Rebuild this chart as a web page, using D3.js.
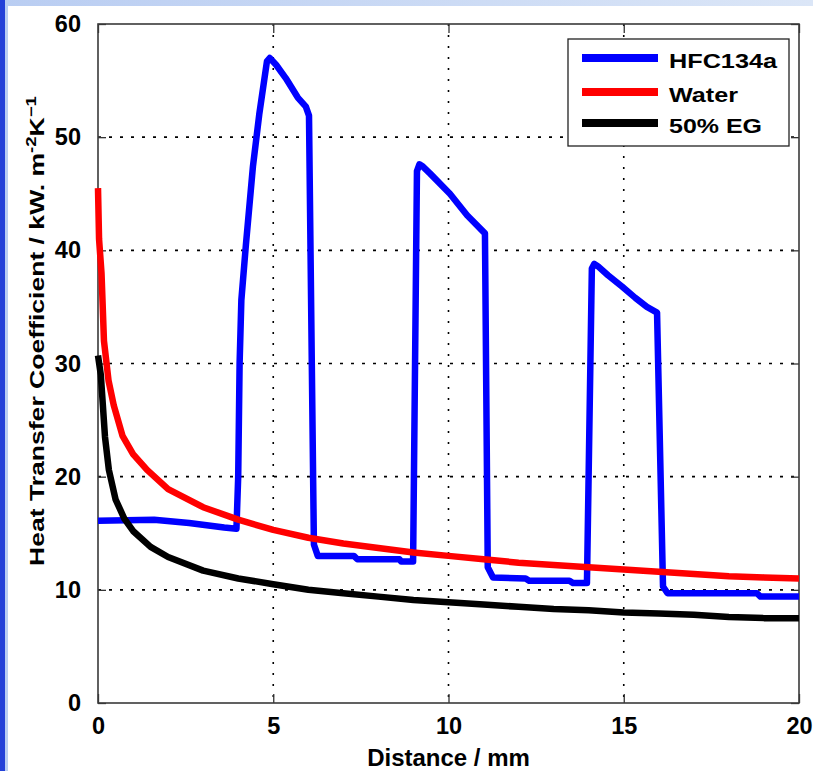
<!DOCTYPE html>
<html>
<head>
<meta charset="utf-8">
<script src="https://cdn.jsdelivr.net/npm/d3@7/dist/d3.min.js"></script>
<style>
  html, body { margin: 0; padding: 0; background: #ffffff; }
  svg { display: block; }
  text { font-family: "Liberation Sans", Arial, Helvetica, sans-serif; font-weight: bold; fill: #000; }
</style>
</head>
<body>
<svg id="chart" width="813" height="771"></svg>
<script>
// ---- data ----
const xTicks = [0, 5, 10, 15, 20];
const yTicks = [0, 10, 20, 30, 40, 50, 60];
const seriesNames = ["HFC134a", "Water", "50% EG"];
const seriesColors = ["#0000ff", "#ff0000", "#000000"];

const hfcX = [0, 1.6, 2.6, 3.6, 3.95, 4.0, 4.04, 4.09, 4.22, 4.42, 4.6, 4.82, 4.9, 5.08, 5.36, 5.7, 5.93, 6.02, 6.1, 6.16, 6.27, 7.3, 7.4, 8.6, 8.65, 8.99, 9.1, 9.17, 9.27, 9.47, 10.04, 10.53, 11.04, 11.12, 11.27, 12.2, 12.3, 13.45, 13.55, 13.95, 14.09, 14.16, 14.26, 14.55, 14.95, 15.33, 15.66, 15.95, 16.12, 16.25, 18.8, 18.9, 20];
const hfcY = [16.1, 16.2, 15.9, 15.5, 15.4, 20, 30, 35.6, 40.5, 47.4, 52, 56.7, 57.0, 56.4, 55.2, 53.5, 52.7, 51.9, 30, 14, 13.0, 13.0, 12.7, 12.7, 12.5, 12.5, 47.0, 47.6, 47.4, 46.8, 45.0, 43.1, 41.5, 12, 11.1, 11.0, 10.8, 10.8, 10.6, 10.6, 38.4, 38.8, 38.6, 37.8, 36.8, 35.8, 35.0, 34.5, 10.3, 9.7, 9.7, 9.4, 9.4];

const waterX = [0, 0.03, 0.1, 0.17, 0.3, 0.45, 0.7, 1.0, 1.4, 2, 3, 4, 5, 6, 7, 8, 9, 10, 11, 12, 13, 14, 15, 16, 17, 18, 19, 20];
const waterY = [45.5, 41, 38, 32, 28.5, 26.3, 23.6, 22, 20.6, 18.9, 17.3, 16.2, 15.3, 14.6, 14.1, 13.7, 13.3, 13.0, 12.7, 12.4, 12.2, 12.0, 11.8, 11.6, 11.4, 11.2, 11.1, 11.0];

const egX = [0, 0.08, 0.2, 0.31, 0.5, 0.75, 1, 1.5, 2, 3, 4, 5, 6, 7, 8, 9, 10, 11, 12, 13, 14, 15, 16, 17, 18, 19, 20];
const egY = [30.7, 29, 23.5, 20.6, 18, 16.3, 15.2, 13.8, 12.9, 11.7, 11.0, 10.5, 10.0, 9.7, 9.4, 9.1, 8.9, 8.7, 8.5, 8.3, 8.2, 8.0, 7.9, 7.8, 7.6, 7.5, 7.5];

// ---- layout ----
const W = 813, H = 771;
const L = 98, R = 799, T = 24, B = 703;

const svg = d3.select("#chart");

// page background (blue frame of the slide)
const defs = svg.append("defs");
const grad = defs.append("linearGradient").attr("id", "bg").attr("x1", 0).attr("y1", 0).attr("x2", 1).attr("y2", 0);
grad.append("stop").attr("offset", "0%").attr("stop-color", "#b9cdf2");
grad.append("stop").attr("offset", "100%").attr("stop-color", "#dbe6f7");
svg.append("rect").attr("width", W).attr("height", H).attr("fill", "url(#bg)");
svg.append("rect").attr("x", 0).attr("y", 0).attr("width", 5).attr("height", H).attr("fill", "#2340d8");
svg.append("rect").attr("x", 8).attr("y", 6).attr("width", W - 8).attr("height", H - 6).attr("fill", "#ffffff");

const x = d3.scaleLinear().domain([0, 20]).range([L, R]);
const y = d3.scaleLinear().domain([0, 60]).range([B, T]);

// grid (dotted)
const grid = svg.append("g");
grid.selectAll("line.vx").data(xTicks.filter(d => d > 0 && d < 20)).enter().append("line")
  .attr("x1", d => x(d)).attr("x2", d => x(d)).attr("y1", T).attr("y2", B)
  .attr("stroke", "#000").attr("stroke-width", 1.6).attr("stroke-dasharray", "2,9");
grid.selectAll("line.hy").data(yTicks.filter(d => d > 0 && d < 60)).enter().append("line")
  .attr("x1", L).attr("x2", R).attr("y1", d => y(d)).attr("y2", d => y(d))
  .attr("stroke", "#000").attr("stroke-width", 1.6).attr("stroke-dasharray", "3,8");

// axes (MATLAB style: inward ticks on all four sides)
const fs = 23.5;
const xAxisB = d3.axisBottom(x).tickValues(xTicks).tickSizeInner(-9).tickSizeOuter(0).tickPadding(14).tickFormat(d3.format("d"));
const xAxisT = d3.axisTop(x).tickValues(xTicks).tickSizeInner(-9).tickSizeOuter(0).tickFormat("");
const yAxisL = d3.axisLeft(y).tickValues(yTicks).tickSizeInner(-8).tickSizeOuter(0).tickPadding(17).tickFormat(d3.format("d"));
const yAxisR = d3.axisRight(y).tickValues(yTicks).tickSizeInner(-8).tickSizeOuter(0).tickFormat("");

function styleAxis(g) {
  g.select(".domain").remove();
  g.selectAll(".tick line").attr("stroke", "#333").attr("stroke-width", 1.3);
  g.selectAll("text").attr("font-size", fs).attr("font-family", "'Liberation Sans', Arial, sans-serif").attr("font-weight", "bold").attr("fill", "#000");
}
svg.append("g").attr("transform", `translate(0,${B})`).call(xAxisB).call(styleAxis);
svg.append("g").attr("transform", `translate(0,${T})`).call(xAxisT).call(styleAxis);
svg.append("g").attr("transform", `translate(${L},0)`).call(yAxisL).call(styleAxis);
svg.append("g").attr("transform", `translate(${R},0)`).call(yAxisR).call(styleAxis);

// frame
svg.append("rect").attr("x", L).attr("y", T).attr("width", R - L).attr("height", B - T)
  .attr("fill", "none").attr("stroke", "#3a3a3a").attr("stroke-width", 1.6);

// series
const series = [
  { xs: hfcX, ys: hfcY },
  { xs: waterX, ys: waterY },
  { xs: egX, ys: egY }
];
const line = d3.line().x(d => x(d[0])).y(d => y(d[1]));
series.forEach((s, i) => {
  const pts = s.xs.map((v, k) => [v, s.ys[k]]);
  svg.append("path").datum(pts).attr("d", line)
    .attr("fill", "none").attr("stroke", seriesColors[i]).attr("stroke-width", 6.5)
    .attr("stroke-linejoin", "round").attr("stroke-linecap", "butt");
});

// legend
const lg = svg.append("g");
lg.append("rect").attr("x", 568).attr("y", 39).attr("width", 221).attr("height", 107)
  .attr("fill", "#ffffff").attr("stroke", "#222").attr("stroke-width", 1.3);
const legY = [58, 92, 123];
const legW = [108, 69, 93];
seriesNames.forEach((n, i) => {
  lg.append("line").attr("x1", 582).attr("x2", 658).attr("y1", legY[i]).attr("y2", legY[i])
    .attr("stroke", seriesColors[i]).attr("stroke-width", 8);
  lg.append("text").attr("x", 669).attr("y", legY[i] + 9.5).attr("font-size", 20)
    .attr("textLength", legW[i]).attr("lengthAdjust", "spacingAndGlyphs").text(n);
});

// axis titles
svg.append("text").attr("x", (L + R) / 2).attr("y", 766).attr("text-anchor", "middle")
  .attr("font-size", 24).text("Distance / mm");

const yl = svg.append("text").attr("text-anchor", "middle").attr("font-size", 20);
yl.append("tspan").text("Heat Transfer Coefficient / kW. m");
yl.append("tspan").attr("dy", -8).attr("font-size", 14).text("-2");
yl.append("tspan").attr("dy", 8).text("K");
yl.append("tspan").attr("dy", -8).attr("font-size", 14).text("\u22121");
const len = yl.node().getComputedTextLength();
const sx = 470 / len;
yl.attr("transform", `translate(44,331) rotate(-90) scale(${sx},1)`);
</script>
</body>
</html>
